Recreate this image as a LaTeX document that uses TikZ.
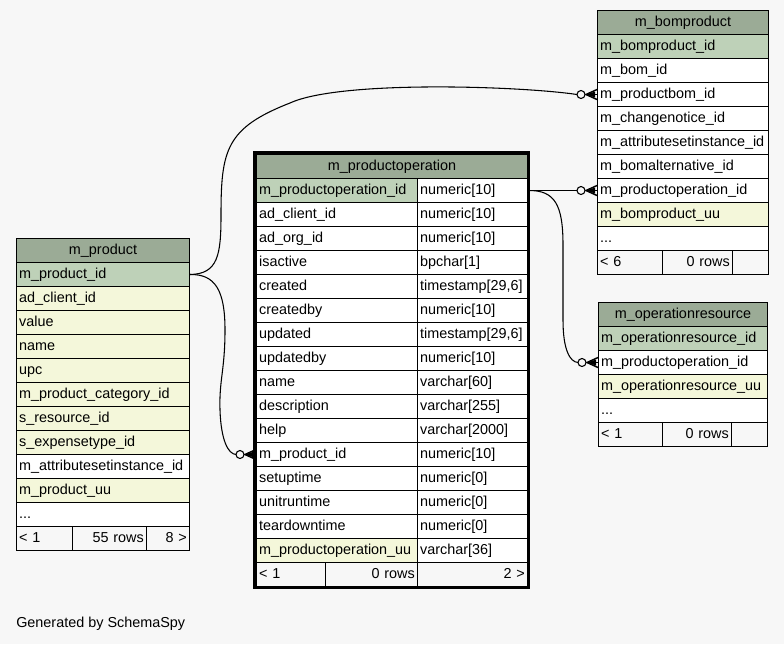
\documentclass[tikz,border=0pt]{standalone}
\usepackage{fontspec}
\setmainfont{Liberation Sans}
\usetikzlibrary{calc}

\definecolor{bgcol}{HTML}{F7F7F7}
\definecolor{hdcol}{HTML}{9BAB96}
\definecolor{pkcol}{HTML}{BED1B8}
\definecolor{ixcol}{HTML}{F4F7DA}

\tikzset{
  cell/.style={draw=black, line width=0.75pt, anchor=north west, inner xsep=2pt, inner ysep=0pt,
    minimum height=18pt, text height=8pt, text depth=2.5pt, align=left, font=\fontsize{10.8}{13}\selectfont},
  hd/.style={fill=hdcol, align=center},
  pk/.style={fill=pkcol},
  ix/.style={fill=ixcol},
  wt/.style={fill=white},
  ft/.style={fill=bgcol},
  wprod/.style={text width=125.75pt},
  wbom/.style={text width=124.25pt},
  wres/.style={text width=122.75pt},
  wname/.style={text width=116.75pt},
  wtype/.style={text width=78.5pt},
  whead/.style={text width=199.25pt},
  rel/.style={draw=black, line width=0.8pt},
  crowodot/.pic={
    \draw[rel] (-12,0) -- (0,0);
    \draw[rel, line width=1.1pt] (-11,0) -- (0,-5) (-11,0) -- (0,5);
    \fill (-11,0) -- (-2,-3) -- (-2,3) -- cycle;
    \draw[rel, fill=bgcol] (-16,0) circle (4);
  }
}

\begin{document}
\begin{tikzpicture}[x=0.75pt,y=0.75pt,yscale=-1,xscale=1]
%Canvas
\fill[bgcol] (0,0) rectangle (784,644);

%Table: m_product
\draw (16,238) node [cell,wprod,hd] (p-head) {m\_product};
\draw (16,262) node [cell,wprod,pk] (p-id) {m\_product\_id};
\draw (16,286) node [cell,wprod,ix] (p-client) {ad\_client\_id};
\draw (16,310) node [cell,wprod,ix] (p-value) {value};
\draw (16,334) node [cell,wprod,ix] (p-name) {name};
\draw (16,358) node [cell,wprod,ix] (p-upc) {upc};
\draw (16,382) node [cell,wprod,ix] (p-categ) {m\_product\_category\_id};
\draw (16,406) node [cell,wprod,ix] (p-resrc) {s\_resource\_id};
\draw (16,430) node [cell,wprod,ix] (p-expns) {s\_expensetype\_id};
\draw (16,454) node [cell,wprod,wt] (p-asi) {m\_attributesetinstance\_id};
\draw (16,478) node [cell,wprod,ix] (p-uu) {m\_product\_uu};
\draw (16,502) node [cell,wprod,wt] (p-more) {...};
\draw (16,526) node [cell,ft,text width=38pt] (p-prev) {< 1};
\draw (72,526) node [cell,ft,text width=51.5pt,align=right] (p-rows) {55 rows};
\draw (146,526) node [cell,ft,text width=28.25pt,align=right] (p-next) {8 >};

%Table: m_productoperation
\draw (256,154) node [cell,whead,hd] (op-head) {m\_productoperation};
\draw (256,178) node [cell,wname,pk] (op-id) {m\_productoperation\_id};
\draw (417,178) node [cell,wtype,wt] (op-idt) {numeric[10]};
\draw (256,202) node [cell,wname,wt] (op-client) {ad\_client\_id};
\draw (417,202) node [cell,wtype,wt] (op-clientt) {numeric[10]};
\draw (256,226) node [cell,wname,wt] (op-org) {ad\_org\_id};
\draw (417,226) node [cell,wtype,wt] (op-orgt) {numeric[10]};
\draw (256,250) node [cell,wname,wt] (op-active) {isactive};
\draw (417,250) node [cell,wtype,wt] (op-activet) {bpchar[1]};
\draw (256,274) node [cell,wname,wt] (op-created) {created};
\draw (417,274) node [cell,wtype,wt] (op-createdt) {timestamp[29,6]};
\draw (256,298) node [cell,wname,wt] (op-createdby) {createdby};
\draw (417,298) node [cell,wtype,wt] (op-createdbyt) {numeric[10]};
\draw (256,322) node [cell,wname,wt] (op-updated) {updated};
\draw (417,322) node [cell,wtype,wt] (op-updatedt) {timestamp[29,6]};
\draw (256,346) node [cell,wname,wt] (op-updatedby) {updatedby};
\draw (417,346) node [cell,wtype,wt] (op-updatedbyt) {numeric[10]};
\draw (256,370) node [cell,wname,wt] (op-name) {name};
\draw (417,370) node [cell,wtype,wt] (op-namet) {varchar[60]};
\draw (256,394) node [cell,wname,wt] (op-descr) {description};
\draw (417,394) node [cell,wtype,wt] (op-descrt) {varchar[255]};
\draw (256,418) node [cell,wname,wt] (op-help) {help};
\draw (417,418) node [cell,wtype,wt] (op-helpt) {varchar[2000]};
\draw (256,442) node [cell,wname,wt] (op-prod) {m\_product\_id};
\draw (417,442) node [cell,wtype,wt] (op-prodt) {numeric[10]};
\draw (256,466) node [cell,wname,wt] (op-setup) {setuptime};
\draw (417,466) node [cell,wtype,wt] (op-setupt) {numeric[0]};
\draw (256,490) node [cell,wname,wt] (op-unitrun) {unitruntime};
\draw (417,490) node [cell,wtype,wt] (op-unitrunt) {numeric[0]};
\draw (256,514) node [cell,wname,wt] (op-teardown) {teardowntime};
\draw (417,514) node [cell,wtype,wt] (op-teardownt) {numeric[0]};
\draw (256,538) node [cell,wname,ix] (op-uu) {m\_productoperation\_uu};
\draw (417,538) node [cell,wtype,wt] (op-uut) {varchar[36]};
\draw (256,562) node [cell,ft,text width=47.75pt] (op-prev) {< 1};
\draw (325,562) node [cell,ft,text width=65pt,align=right] (op-rows) {0 rows};
\draw (417,562) node [cell,ft,wtype,align=right] (op-next) {2 >};
%Shape: Rectangle (focus border)
\draw [line width=2.25pt] (254.5,152.5) rectangle (528.5,587.5);

%Table: m_bomproduct
\draw (597,10) node [cell,wbom,hd] (bp-head) {m\_bomproduct};
\draw (597,34) node [cell,wbom,pk] (bp-id) {m\_bomproduct\_id};
\draw (597,58) node [cell,wbom,wt] (bp-bom) {m\_bom\_id};
\draw (597,82) node [cell,wbom,wt] (bp-pbom) {m\_productbom\_id};
\draw (597,106) node [cell,wbom,wt] (bp-notice) {m\_changenotice\_id};
\draw (597,130) node [cell,wbom,wt] (bp-asi) {m\_attributesetinstance\_id};
\draw (597,154) node [cell,wbom,wt] (bp-alt) {m\_bomalternative\_id};
\draw (597,178) node [cell,wbom,wt] (bp-op) {m\_productoperation\_id};
\draw (597,202) node [cell,wbom,ix] (bp-uu) {m\_bomproduct\_uu};
\draw (597,226) node [cell,wbom,wt] (bp-more) {...};
\draw (597,250) node [cell,ft,text width=44.75pt] (bp-prev) {< 6};
\draw (662,250) node [cell,ft,text width=48.5pt,align=right] (bp-rows) {0 rows};
\draw (732,250) node [cell,ft,text width=23pt] (bp-next) {};

%Table: m_operationresource
\draw (598,302) node [cell,wres,hd] (or-head) {m\_operationresource};
\draw (598,326) node [cell,wres,pk] (or-id) {m\_operationresource\_id};
\draw (598,350) node [cell,wres,wt] (or-op) {m\_productoperation\_id};
\draw (598,374) node [cell,wres,ix] (or-uu) {m\_operationresource\_uu};
\draw (598,398) node [cell,wres,wt] (or-more) {...};
\draw (598,422) node [cell,ft,text width=44pt] (or-prev) {< 1};
\draw (662,422) node [cell,ft,text width=47.75pt,align=right] (or-rows) {0 rows};
\draw (731,422) node [cell,ft,text width=23pt] (or-next) {};

%Relations
\coordinate (e-pbom) at ($(bp-pbom.west)+(-20,0)$);
\coordinate (e-prod) at ($(op-prod.west)+(-20,0)$);
\coordinate (e-bpop) at ($(bp-op.west)+(-20,0)$);
\coordinate (e-orop) at ($(or-op.west)+(-20,0)$);
%Curve Lines
\draw [rel] (p-id.east) .. controls (218,274) and (221,255) .. (221,215) .. controls (221,150) and (226,128) .. (290,103) .. controls (340,80) and (520,86) .. (e-pbom);
\draw [rel] (p-id.east) .. controls (215,274) and (225,290) .. (225,330) .. controls (225,370) and (219,380) .. (220,410) .. controls (221,440) and (228,454) .. (e-prod);
\draw [rel] (op-idt.east) -- (e-bpop);
\draw [rel] (op-idt.east) .. controls (555,190) and (563,205) .. (563,245) -- (563,320) .. controls (563,350) and (570,362) .. (e-orop);
\pic at (bp-pbom.west) {crowodot};
\pic at (op-prod.west) {crowodot};
\pic at (bp-op.west) {crowodot};
\pic at (or-op.west) {crowodot};

% Text Node
\draw (16,624) node [anchor=west, inner sep=0pt, font=\fontsize{10.8}{13}\selectfont] (credit) {Generated by SchemaSpy};
\end{tikzpicture}
\end{document}
